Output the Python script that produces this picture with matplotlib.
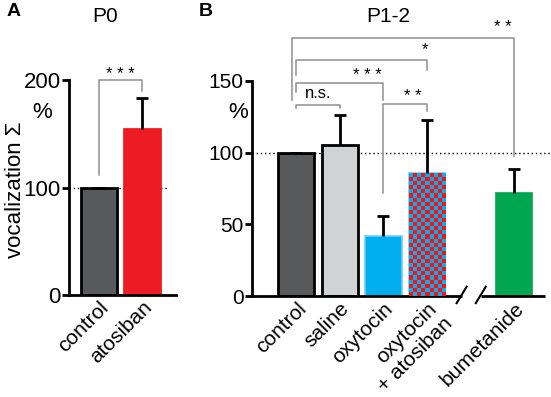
import numpy as np
import matplotlib
matplotlib.use('Agg')
import matplotlib.pyplot as plt
from matplotlib.colors import ListedColormap

plt.rcParams['font.family'] = ['Liberation Sans', 'DejaVu Sans']

# panel A data
a_labels = ['control', 'atosiban']
a_values = [100, 154]
a_errors = [0, 29]
a_colors = ['#58595b', '#ed1c24']
a_edges = ['black', '#ed1c24']

# panel B data
b_labels = ['control', 'saline', 'oxytocin', 'oxytocin\n+ atosiban', 'bumetanide']
b_pos = [0, 1, 2, 3, 5]
b_values = [100, 105.6, 42, 85.5, 72]
b_errors = [0, 21, 13.5, 37.5, 16.5]
b_colors = ['#58595b', '#d1d2d4', '#00adee', '#00b0f0', '#00a650']
b_edges = ['black', 'black', '#6fcff5', '#6fcff5', '#00a650']

GRAY = '#8f8f8f'
W, H = 551, 397
fig = plt.figure(figsize=(W / 100, H / 100), dpi=100)

def px_axes(x0, y0, x1, y1):
    return fig.add_axes([x0 / W, 1 - y1 / H, (x1 - x0) / W, (y1 - y0) / H])

def style_axes(ax, ticks, fs):
    for s in ['top', 'right']:
        ax.spines[s].set_visible(False)
    ax.spines['left'].set_linewidth(2)
    ax.spines['bottom'].set_linewidth(2)
    ax.set_yticks(ticks)
    ax.tick_params(axis='y', direction='out', length=5, width=2, labelsize=fs, pad=1)
    ax.tick_params(axis='x', length=0, labelsize=15, pad=2)

def up_errors(ax, x, vals, errs):
    # only the upper half of the error bar, as in the figure
    eb = ax.errorbar(x, vals, yerr=[np.zeros(len(errs)), errs], fmt='none',
                     ecolor='black', elinewidth=2, capsize=4, capthick=2, zorder=3)
    eb[1][0].set_visible(False)

def bracket(ax, x1, x2, top, b1, b2, text, tx, ty, fs=12):
    ax.plot([x1, x1, x2, x2], [b1, top, top, b2], color=GRAY, lw=1.1, clip_on=False)
    ax.text(tx, ty, text, ha='center', va='center', fontsize=fs, clip_on=False)

# ---- panel A ----
axA = px_axes(69, 80, 176, 295)
xa = np.arange(len(a_values))
axA.bar(xa, a_values, width=0.84, color=a_colors, edgecolor=a_edges, linewidth=2, zorder=2)
up_errors(axA, xa, a_values, a_errors)
axA.set_xlim(-0.7, 1.79)
axA.set_ylim(0, 200)
axA.plot([-0.7, 1.58], [100, 100], ls=(0, (1, 2)), color='black', lw=1, zorder=1)
style_axes(axA, [0, 100, 200], 16)
axA.set_xticks(xa)
axA.set_xticklabels(a_labels, rotation=45, ha='right', rotation_mode='anchor')
bracket(axA, 0, 1, 200, 112, 190, '* * *', 0.5, 205, fs=12)

# ---- panel B ----
axB = px_axes(252, 81, 545, 296)
for i in range(len(b_values)):
    lw = 2 if b_edges[i] == 'black' else 1.2
    axB.bar(b_pos[i], b_values[i], width=0.83, color=b_colors[i], edgecolor=b_edges[i],
            linewidth=lw, zorder=2)
up_errors(axB, b_pos, b_values, b_errors)

# checkerboard fill of oxytocin + atosiban
bar = axB.patches[3]
nrow, ncol = 30, 9
checker = np.indices((nrow, ncol)).sum(axis=0) % 2
im = axB.imshow(checker, cmap=ListedColormap(['#00b0f0', '#ff1010']), aspect='auto',
                interpolation='nearest', zorder=2.5,
                extent=(b_pos[3] - 0.415, b_pos[3] + 0.415, 0, b_values[3]))
im.set_clip_path(bar)

xlim_b = (-1.02, 5.71)
axB.set_xlim(*xlim_b)
axB.set_ylim(0, 150)
axB.plot([xlim_b[0], xlim_b[1] + 0.15], [100, 100], ls=(0, (1, 2)), color='black', lw=1,
         zorder=1, clip_on=False)
style_axes(axB, [0, 50, 100, 150], 15)
axB.set_xticks(b_pos)
axB.set_xticklabels(b_labels, rotation=45, ha='right', rotation_mode='anchor')

# broken x axis
brk = (3.8, 4.24)
axB.spines['bottom'].set_visible(False)
axB.plot([xlim_b[0], brk[0]], [0, 0], color='black', lw=2, clip_on=False, solid_capstyle='butt')
axB.plot([brk[1], xlim_b[1]], [0, 0], color='black', lw=2, clip_on=False, solid_capstyle='butt')
for bx in brk:
    axB.plot([bx - 0.12, bx + 0.11], [-5, 6.5], color='black', lw=1.5, clip_on=False)

bracket(axB, 0, 1, 133, 131, 131, 'n.s.', 0.5, 141, fs=12)
bracket(axB, 0, 2, 148.6, 142.4, 137, '* * *', 1.62, 154, fs=12)
bracket(axB, 2, 3, 133.8, 72, 129, '* *', 2.68, 139.5, fs=12)
bracket(axB, 0, 3, 165, 154, 158, '*', 2.95, 172, fs=12)
bracket(axB, -0.1, 5, 180, 137, 98, '* *', 4.73, 187, fs=12)

# texts
fig.text(42 / W, 1 - 113 / H, '%', ha='center', va='center', fontsize=16)
fig.text(238 / W, 1 - 112 / H, '%', ha='center', va='center', fontsize=16)
fig.text(16 / W, 1 - 190 / H, 'vocalization Σ', rotation=90, ha='center', va='center', fontsize=16)
fig.text(105 / W, 1 - 17 / H, 'P0', ha='center', va='center', fontsize=15)
fig.text(388 / W, 1 - 17 / H, 'P1-2', ha='center', va='center', fontsize=15)
fig.text(14 / W, 1 - 12 / H, 'A', ha='center', va='center', fontsize=14, fontweight='bold')
fig.text(206 / W, 1 - 12 / H, 'B', ha='center', va='center', fontsize=14, fontweight='bold')

fig.savefig('out.png', dpi=100)
